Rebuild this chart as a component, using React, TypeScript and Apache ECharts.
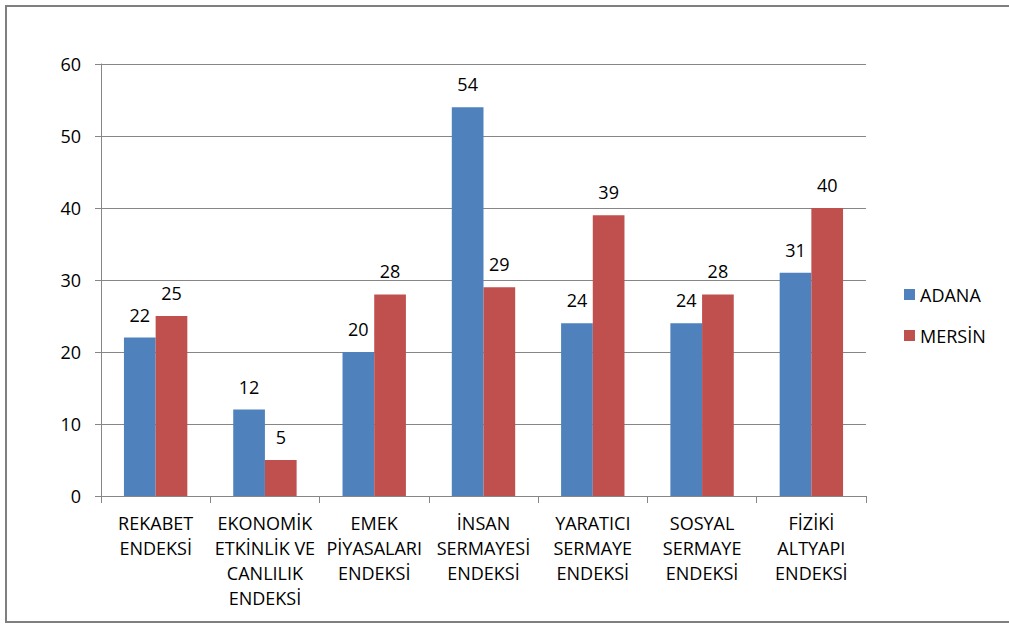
import React, { useEffect, useRef } from "react";
import * as echarts from "echarts";

const categories = [
  "REKABET\nENDEKSİ",
  "EKONOMİK\nETKİNLİK VE\nCANLILIK\nENDEKSİ",
  "EMEK\nPİYASALARI\nENDEKSİ",
  "İNSAN\nSERMAYESİ\nENDEKSİ",
  "YARATICI\nSERMAYE\nENDEKSİ",
  "SOSYAL\nSERMAYE\nENDEKSİ",
  "FİZİKİ\nALTYAPI\nENDEKSİ",
];
const adana = [22, 12, 20, 54, 24, 24, 31];
const mersin = [25, 5, 28, 29, 39, 28, 40];
const seriesNames = ["ADANA", "MERSİN"];
const colors = ["#4F81BD", "#C0504D"];

const FONT = "'Open Sans', sans-serif";

export default function App() {
  const ref = useRef<HTMLDivElement>(null);
  useEffect(() => {
    const chart = echarts.init(ref.current!, null, { renderer: "svg" });
    const label = {
      show: true,
      position: "top",
      distance: 14,
      color: "#000",
      fontFamily: FONT,
      fontSize: 18,
    };
    chart.setOption({
      animation: false,
      backgroundColor: "#fff",
      graphic: [
        {
          type: "rect",
          shape: { x: 6, y: 6, width: 1012, height: 616 },
          style: { fill: "none", stroke: "#7f7f7f", lineWidth: 2 },
          silent: true,
        },
      ],
      grid: { left: 101, top: 64, width: 765, height: 432, containLabel: false },
      legend: {
        orient: "vertical",
        left: 904,
        top: 284,
        padding: 0,
        itemWidth: 11,
        itemHeight: 11,
        itemGap: 20,
        icon: "rect",
        textStyle: { fontFamily: FONT, fontSize: 18, color: "#000", lineHeight: 21 },
        data: seriesNames,
      },
      xAxis: {
        type: "category",
        data: categories,
        axisLine: { lineStyle: { color: "#868686" } },
        axisTick: { show: true, length: 7, lineStyle: { color: "#868686" } },
        axisLabel: {
          interval: 0,
          margin: 14,
          color: "#000",
          fontFamily: FONT,
          fontSize: 18,
          lineHeight: 25,
        },
      },
      yAxis: {
        type: "value",
        min: 0,
        max: 60,
        interval: 10,
        axisLine: { show: true, lineStyle: { color: "#868686" } },
        axisTick: { show: true, length: 6, lineStyle: { color: "#868686" } },
        splitLine: { lineStyle: { color: "#868686" } },
        axisLabel: { margin: 20, color: "#000", fontFamily: FONT, fontSize: 18 },
      },
      series: [
        {
          name: seriesNames[0],
          type: "bar",
          data: adana,
          itemStyle: { color: colors[0] },
          barGap: "0%",
          barCategoryGap: "42%",
          label,
        },
        {
          name: seriesNames[1],
          type: "bar",
          data: mersin,
          itemStyle: { color: colors[1] },
          barGap: "0%",
          barCategoryGap: "42%",
          label,
        },
      ],
    });
    return () => chart.dispose();
  }, []);
  return (
    <div
      ref={ref}
      style={{ position: "absolute", left: 0, top: 0, width: 1009, height: 627 }}
    />
  );
}
